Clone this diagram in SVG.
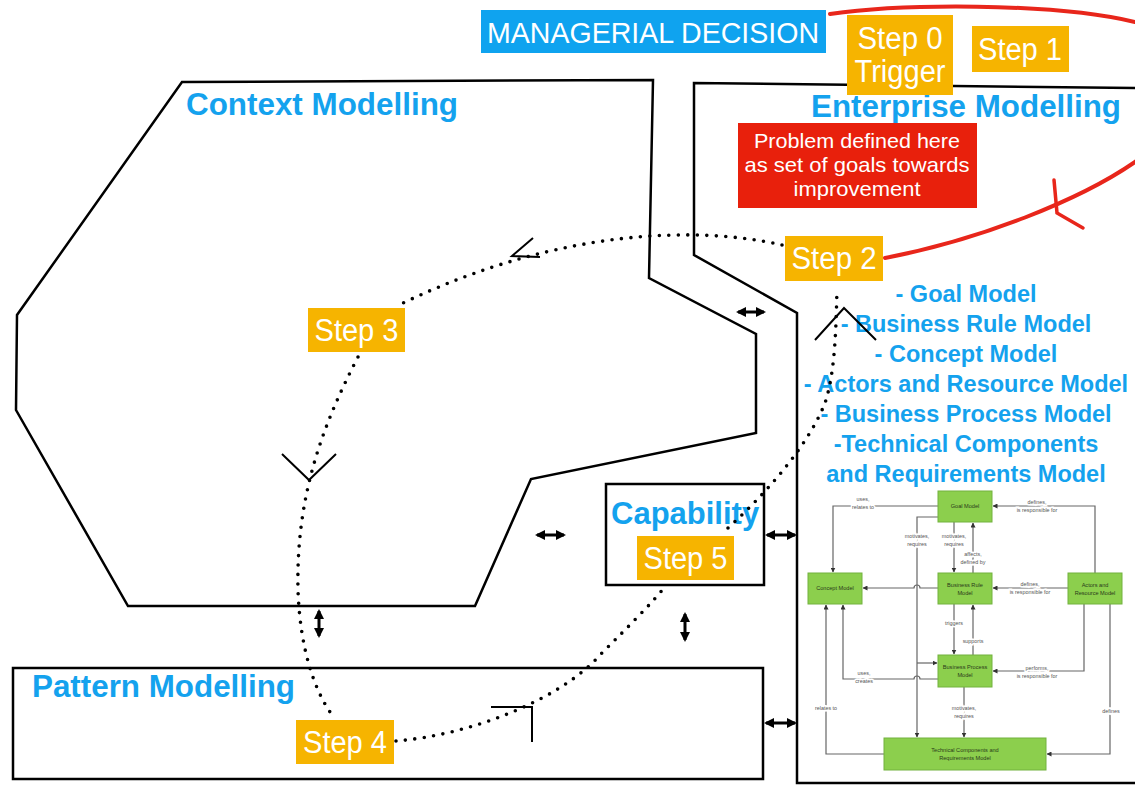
<svg xmlns="http://www.w3.org/2000/svg" width="1135" height="785" viewBox="0 0 1135 785">
<style>
.panel{fill:none;stroke:#000;stroke-width:2.5;stroke-linejoin:miter}
.title{font-family:"Liberation Sans",Arial,sans-serif;font-weight:bold;font-size:31px;fill:#14a2ee}
.list{font-family:"Liberation Sans",Arial,sans-serif;font-weight:bold;font-size:23.5px;fill:#14a2ee;text-anchor:middle}
.step{fill:#f6b400}
.steptxt{font-family:"Liberation Sans",Arial,sans-serif;font-size:31px;fill:#fff;text-anchor:middle}
.dots{fill:none;stroke:#000;stroke-width:3.6;stroke-linecap:round;stroke-dasharray:0 9.5}
.head{fill:none;stroke:#000;stroke-width:2}
.dbl{stroke:#000;stroke-width:3}
.gbox{fill:#8ccf4d;stroke:#72b23e;stroke-width:1}
.gtxt{font-family:"Liberation Sans",Arial,sans-serif;font-size:5.6px;fill:#2a3a1a;text-anchor:middle}
.edge{fill:none;stroke:#666;stroke-width:1.2}
.elbl{font-family:"Liberation Sans",Arial,sans-serif;font-size:5.4px;fill:#555;text-anchor:middle;paint-order:stroke;stroke:#fff;stroke-width:3px}
</style>
<defs>
<marker id="big" viewBox="0 0 10 10" refX="8" refY="5" markerWidth="10" markerHeight="10" markerUnits="userSpaceOnUse" orient="auto-start-reverse">
<path d="M0,0 L10,5 L0,10 Z" fill="#000"/>
</marker>
<marker id="sm" viewBox="0 0 10 10" refX="9" refY="5" markerWidth="5" markerHeight="5" markerUnits="userSpaceOnUse" orient="auto">
<path d="M0,0 L10,5 L0,10 Z" fill="#333"/>
</marker>
</defs>
<rect width="1135" height="785" fill="#fff"/>

<g id="context-modelling">
<polygon class="panel" points="182,82 653,80 649,278 756,334 756,433 531,479 475,606 128,606 16,410 17,315"/>
<text class="title" x="186" y="115" textLength="272" lengthAdjust="spacingAndGlyphs">Context Modelling</text>
</g>

<g id="enterprise-modelling">
<polyline class="panel" points="1137,88 694,83 694,255 797,313 797,783 1137,783"/>
<text class="title" x="811" y="117" textLength="310" lengthAdjust="spacingAndGlyphs">Enterprise Modelling</text>
</g>

<g id="capability">
<rect class="panel" x="606" y="484" width="158" height="101"/>
<text class="title" x="611" y="524">Capability</text>
</g>

<g id="pattern-modelling">
<rect class="panel" x="13" y="668" width="750" height="111"/>
<text class="title" x="32" y="697" textLength="263" lengthAdjust="spacingAndGlyphs">Pattern Modelling</text>
</g>

<g id="managerial-decision">
<rect x="481" y="10" width="345" height="43" fill="#0fa3ef"/>
<text x="487" y="43" textLength="332" lengthAdjust="spacingAndGlyphs" style="font-family:'Liberation Sans',Arial,sans-serif;font-size:29px;fill:#fff">MANAGERIAL DECISION</text>
</g>

<g id="red-loop">
<path d="M830 14 C900 4 1050 2 1135 22 C1200 40 1200 120 1135 162 C1080 200 980 240 885 258" fill="none" stroke="#e8261b" stroke-width="4" stroke-linecap="round"/>
<polyline points="1054,180 1057,213 1083,228" fill="none" stroke="#e8261b" stroke-width="3.5" stroke-linecap="round"/>
</g>

<g id="step0">
<rect class="step" x="847" y="15" width="106" height="80"/>
<text class="steptxt" x="900" y="49" textLength="85" lengthAdjust="spacingAndGlyphs">Step 0</text>
<text class="steptxt" x="900" y="82" textLength="91" lengthAdjust="spacingAndGlyphs">Trigger</text>
</g>

<g id="step1">
<rect class="step" x="972" y="26" width="97" height="46"/>
<text class="steptxt" x="1020" y="60" textLength="84" lengthAdjust="spacingAndGlyphs">Step 1</text>
</g>

<g id="problem">
<rect x="738" y="123" width="239" height="85" fill="#e8200c"/>
<g style="font-family:'Liberation Sans',Arial,sans-serif;font-size:21px;fill:#fff;text-anchor:middle">
<text x="857" y="148" textLength="206" lengthAdjust="spacingAndGlyphs">Problem defined here</text>
<text x="857" y="172" textLength="225" lengthAdjust="spacingAndGlyphs">as set of goals towards</text>
<text x="857" y="196" textLength="127" lengthAdjust="spacingAndGlyphs">improvement</text>
</g>
</g>

<g id="model-list">
<text class="list" x="966" y="302">- Goal Model</text>
<text class="list" x="966" y="332">- Business Rule Model</text>
<text class="list" x="966" y="362">- Concept Model</text>
<text class="list" x="966" y="392">- Actors and Resource Model</text>
<text class="list" x="966" y="422">- Business Process Model</text>
<text class="list" x="966" y="452">-Technical Components</text>
<text class="list" x="966" y="482">and Requirements Model</text>
</g>

<g id="connectors">
<path class="dots" d="M782 245 C700 226 560 228 403 303"/>
<path class="dots" d="M358 357 C320 430 296 500 298 590 C300 650 315 690 330 712"/>
<path class="dots" d="M396 741 C470 735 560 700 600 655 C630 625 650 605 664 588"/>
<path class="dots" d="M728 528 C770 490 812 440 826 400 C835 370 836 330 837 288"/>
<polyline class="head" points="533,238 512,256 540,257"/>
<polyline class="head" points="282,454 309,480 336,454"/>
<polyline class="head" points="491,707 532,707 532,742"/>
<polyline class="head" points="815,340 844,308 876,340"/>
<line class="dbl" x1="738" y1="312" x2="764" y2="312" marker-start="url(#big)" marker-end="url(#big)"/>
<line class="dbl" x1="537" y1="535" x2="564" y2="535" marker-start="url(#big)" marker-end="url(#big)"/>
<line class="dbl" x1="767" y1="535" x2="795" y2="535" marker-start="url(#big)" marker-end="url(#big)"/>
<line class="dbl" x1="766" y1="723" x2="795" y2="723" marker-start="url(#big)" marker-end="url(#big)"/>
<line class="dbl" x1="319" y1="611" x2="319" y2="636" marker-start="url(#big)" marker-end="url(#big)"/>
<line class="dbl" x1="685" y1="614" x2="685" y2="640" marker-start="url(#big)" marker-end="url(#big)"/>
</g>

<g id="step2">
<rect class="step" x="785" y="236" width="98" height="45"/>
<text class="steptxt" x="834" y="269" textLength="85" lengthAdjust="spacingAndGlyphs">Step 2</text>
</g>
<g id="step3">
<rect class="step" x="308" y="308" width="97" height="44"/>
<text class="steptxt" x="356.5" y="341" textLength="84" lengthAdjust="spacingAndGlyphs">Step 3</text>
</g>
<g id="step4">
<rect class="step" x="296" y="720" width="98" height="44"/>
<text class="steptxt" x="345" y="753" textLength="84" lengthAdjust="spacingAndGlyphs">Step 4</text>
</g>
<g id="step5">
<rect class="step" x="637" y="536" width="97" height="44"/>
<text class="steptxt" x="685.5" y="569" textLength="84" lengthAdjust="spacingAndGlyphs">Step 5</text>
</g>

<g id="metamodel-connectors">
<path class="edge" d="M938 506 H833 V572" marker-end="url(#sm)"/>
<path class="edge" d="M1095 573 V506 H993" marker-end="url(#sm)"/>
<path class="edge" d="M938 517 H917 V737" marker-end="url(#sm)"/>
<path class="edge" d="M917 663 H937" marker-end="url(#sm)"/>
<path class="edge" d="M954 522 V572" marker-end="url(#sm)"/>
<path class="edge" d="M973 573 V523" marker-end="url(#sm)"/>
<path class="edge" d="M938 588 H920 A3 3 0 0 0 914 588 H863" marker-end="url(#sm)"/>
<path class="edge" d="M1068 588 H993" marker-end="url(#sm)"/>
<path class="edge" d="M954 604 V654" marker-end="url(#sm)"/>
<path class="edge" d="M973 655 V605" marker-end="url(#sm)"/>
<path class="edge" d="M1084 604 V671 H993" marker-end="url(#sm)"/>
<path class="edge" d="M1110 604 V754 H1047" marker-end="url(#sm)"/>
<path class="edge" d="M938 679 H920 A3 3 0 0 0 914 679 H843 V605" marker-end="url(#sm)"/>
<path class="edge" d="M884 754 H826 V605" marker-end="url(#sm)"/>
<path class="edge" d="M964 687 V737" marker-end="url(#sm)"/>
<text class="elbl"><tspan x="863" y="501">uses,</tspan><tspan x="863" y="509">relates to</tspan></text>
<text class="elbl"><tspan x="1037" y="504">defines,</tspan><tspan x="1037" y="512">is responsible for</tspan></text>
<text class="elbl"><tspan x="917" y="538">motivates,</tspan><tspan x="917" y="546">requires</tspan></text>
<text class="elbl"><tspan x="954" y="538">motivates,</tspan><tspan x="954" y="546">requires</tspan></text>
<text class="elbl"><tspan x="973" y="556">affects,</tspan><tspan x="973" y="564">defined by</tspan></text>
<text class="elbl"><tspan x="1030" y="586">defines,</tspan><tspan x="1030" y="594">is responsible for</tspan></text>
<text class="elbl" x="954" y="625">triggers</text>
<text class="elbl" x="973" y="643">supports</text>
<text class="elbl"><tspan x="1037" y="670">performs,</tspan><tspan x="1037" y="678">is responsible for</tspan></text>
<text class="elbl"><tspan x="864" y="675">uses,</tspan><tspan x="864" y="683">creates</tspan></text>
<text class="elbl" x="826" y="710">relates to</text>
<text class="elbl"><tspan x="964" y="710">motivates,</tspan><tspan x="964" y="718">requires</tspan></text>
<text class="elbl" x="1111" y="713">defines</text>
</g>

<g id="goal-model">
<rect class="gbox" x="938" y="491" width="54" height="31"/>
<text class="gtxt" x="965" y="508">Goal Model</text>
</g>
<g id="concept-model">
<rect class="gbox" x="808" y="573" width="54" height="31"/>
<text class="gtxt" x="835" y="590">Concept Model</text>
</g>
<g id="business-rule-model">
<rect class="gbox" x="938" y="573" width="54" height="31"/>
<text class="gtxt" x="965" y="587">Business Rule</text>
<text class="gtxt" x="965" y="595">Model</text>
</g>
<g id="actors-resource-model">
<rect class="gbox" x="1068" y="573" width="54" height="31"/>
<text class="gtxt" x="1095" y="587">Actors and</text>
<text class="gtxt" x="1095" y="595">Resource Model</text>
</g>
<g id="business-process-model">
<rect class="gbox" x="938" y="655" width="54" height="32"/>
<text class="gtxt" x="965" y="669">Business Process</text>
<text class="gtxt" x="965" y="677">Model</text>
</g>
<g id="technical-components-model">
<rect class="gbox" x="884" y="738" width="162" height="32"/>
<text class="gtxt" x="965" y="752">Technical Components and</text>
<text class="gtxt" x="965" y="760">Requirements Model</text>
</g>
</svg>
